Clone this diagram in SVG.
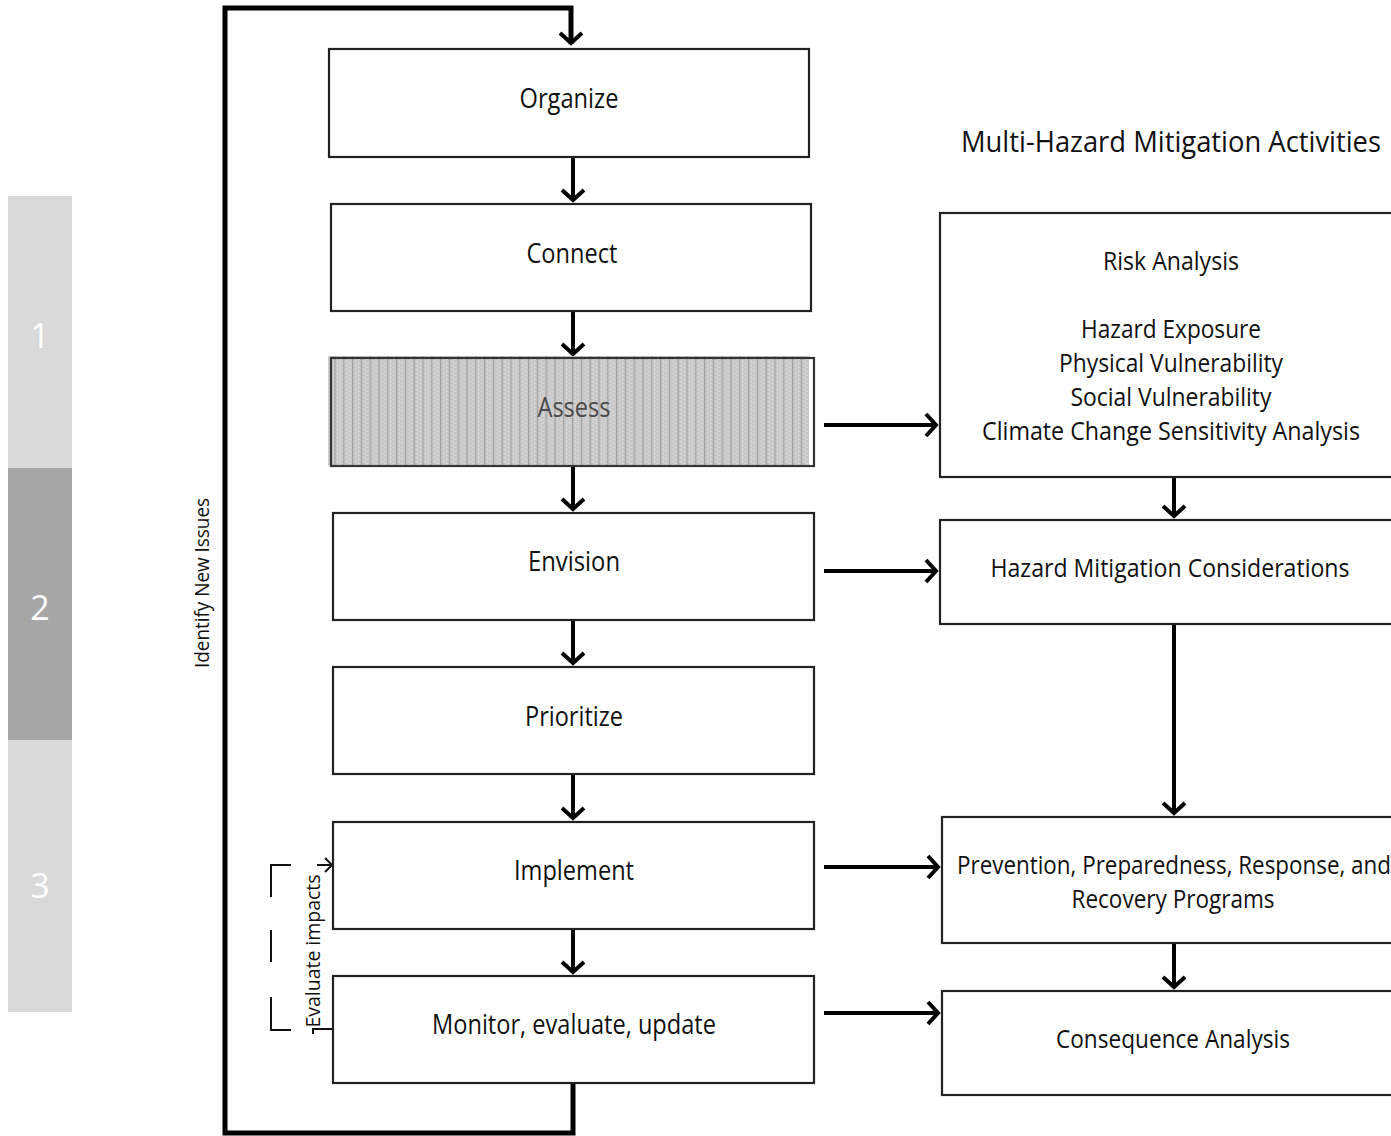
<svg xmlns="http://www.w3.org/2000/svg" width="1391" height="1136" viewBox="0 0 1391 1136">
  <style>
    text { font-family: "Open Sans", "Noto Sans", "Liberation Sans", sans-serif; fill: #111; font-weight: 500; }
    .lbl { font-size: 27px; text-anchor: middle; }
    .act { font-size: 26px; text-anchor: middle; }
    .box { fill: #fff; stroke: #222; stroke-width: 2.2; }
    .conn { fill: none; stroke: #000; stroke-width: 4; }
    .loop { fill: none; stroke: #000; stroke-width: 5; }
    .thin { fill: none; stroke: #111; stroke-width: 2; }
    .num { font-size: 34px; fill: #fff; text-anchor: middle; font-weight: 400; }
  </style>
  <defs>
    <marker id="chev" viewBox="-14 -14 28 28" markerWidth="28" markerHeight="28" refX="1" refY="0" orient="auto" markerUnits="userSpaceOnUse">
      <path d="M-10,-11 L0,0 L-10,11" fill="none" stroke="#000" stroke-width="4"/>
    </marker>
    <marker id="chevThin" viewBox="-10 -10 20 20" markerWidth="20" markerHeight="20" refX="0" refY="0" orient="auto" markerUnits="userSpaceOnUse">
      <path d="M-7,-7 L0,0 L-7,7" fill="none" stroke="#111" stroke-width="2"/>
    </marker>
    <pattern id="screen" width="8.8" height="4" patternUnits="userSpaceOnUse">
      <rect width="8.8" height="4" fill="#cacaca"/>
      <rect x="0" y="0" width="1.2" height="4" fill="#a2a2a2"/>
      <rect x="3" y="1" width="1" height="1" fill="#e8e8e8"/>
      <rect x="6" y="3" width="1" height="1" fill="#e8e8e8"/>
    </pattern>
  </defs>

  <rect width="1391" height="1136" fill="#fff"/>

  <!-- phase sidebar -->
  <g id="phases">
    <rect x="8" y="196" width="64" height="272" fill="#d9d9d9"/>
    <rect x="8" y="468" width="64" height="272" fill="#a6a6a6"/>
    <rect x="8" y="740" width="64" height="272" fill="#d9d9d9"/>
    <text class="num" x="40" y="348">1</text>
    <text class="num" x="40" y="620">2</text>
    <text class="num" x="40" y="898">3</text>
  </g>

  <!-- connectors -->
  <g id="connectors">
    <!-- feedback loop -->
    <path class="loop" d="M573,1083 V1133 H225 V8 H571 V44" marker-end="url(#chev)"/>
    <!-- process chain -->
    <path class="conn" d="M573,157 V201" marker-end="url(#chev)"/>
    <path class="conn" d="M573,311 V355" marker-end="url(#chev)"/>
    <path class="conn" d="M573,466 V510" marker-end="url(#chev)"/>
    <path class="conn" d="M573,620 V664" marker-end="url(#chev)"/>
    <path class="conn" d="M573,774 V819" marker-end="url(#chev)"/>
    <path class="conn" d="M573,929 V973" marker-end="url(#chev)"/>
    <!-- process to activities -->
    <path class="conn" d="M824,425 H937" marker-end="url(#chev)"/>
    <path class="conn" d="M824,571 H937" marker-end="url(#chev)"/>
    <path class="conn" d="M824,867 H939" marker-end="url(#chev)"/>
    <path class="conn" d="M824,1013 H939" marker-end="url(#chev)"/>
    <!-- activities chain -->
    <path class="conn" d="M1174,477 V517" marker-end="url(#chev)"/>
    <path class="conn" d="M1174,624 V814" marker-end="url(#chev)"/>
    <path class="conn" d="M1174,943 V988" marker-end="url(#chev)"/>
    <!-- evaluate impacts bracket -->
    <path class="thin" d="M291,865 H271 V897"/>
    <path class="thin" d="M271,930 V962"/>
    <path class="thin" d="M271,997 V1030 H291"/>
    <path class="thin" d="M317,865 H332" marker-end="url(#chevThin)"/>
    <path class="thin" d="M313,1034 V1029 H333"/>
  </g>

  <text x="209" y="583" font-size="20" text-anchor="middle" transform="rotate(-90 209 583)" textLength="170" lengthAdjust="spacingAndGlyphs">Identify New Issues</text>
  <text x="320" y="951" font-size="20" text-anchor="middle" transform="rotate(-90 320 951)" textLength="153" lengthAdjust="spacingAndGlyphs">Evaluate impacts</text>

  <!-- planning process steps -->
  <g id="organize">
    <rect class="box" x="329" y="49" width="480" height="108"/>
    <text class="lbl" x="569" y="108" textLength="99" lengthAdjust="spacingAndGlyphs">Organize</text>
  </g>
  <g id="connect">
    <rect class="box" x="331" y="204" width="480" height="107"/>
    <text class="lbl" x="572" y="263" textLength="91" lengthAdjust="spacingAndGlyphs">Connect</text>
  </g>
  <g id="assess">
    <rect x="328" y="356" width="481" height="110" fill="url(#screen)"/>
    <rect x="331" y="358" width="483" height="108" fill="none" stroke="#333" stroke-width="2.2"/>
    <text class="lbl" x="574" y="417" textLength="73" lengthAdjust="spacingAndGlyphs" style="fill:#4a4a4a">Assess</text>
  </g>
  <g id="envision">
    <rect class="box" x="333" y="513" width="481" height="107"/>
    <text class="lbl" x="574" y="571" textLength="92" lengthAdjust="spacingAndGlyphs">Envision</text>
  </g>
  <g id="prioritize">
    <rect class="box" x="333" y="667" width="481" height="107"/>
    <text class="lbl" x="574" y="726" textLength="98" lengthAdjust="spacingAndGlyphs">Prioritize</text>
  </g>
  <g id="implement">
    <rect class="box" x="333" y="822" width="481" height="107"/>
    <text class="lbl" x="574" y="880" textLength="120" lengthAdjust="spacingAndGlyphs">Implement</text>
  </g>
  <g id="monitor">
    <rect class="box" x="333" y="976" width="481" height="107"/>
    <text class="lbl" x="574" y="1034" textLength="284" lengthAdjust="spacingAndGlyphs">Monitor, evaluate, update</text>
  </g>

  <!-- mitigation activities -->
  <text x="1171" y="152" font-size="29" text-anchor="middle" textLength="420" lengthAdjust="spacingAndGlyphs">Multi-Hazard Mitigation Activities</text>

  <g id="risk-analysis">
    <rect class="box" x="940" y="213" width="460" height="264"/>
    <text class="act" x="1171" y="270" textLength="136" lengthAdjust="spacingAndGlyphs">Risk Analysis</text>
    <text class="act" x="1171" y="338" textLength="180" lengthAdjust="spacingAndGlyphs">Hazard Exposure</text>
    <text class="act" x="1171" y="372" textLength="224" lengthAdjust="spacingAndGlyphs">Physical Vulnerability</text>
    <text class="act" x="1171" y="406" textLength="201" lengthAdjust="spacingAndGlyphs">Social Vulnerability</text>
    <text class="act" x="1171" y="440" textLength="378" lengthAdjust="spacingAndGlyphs">Climate Change Sensitivity Analysis</text>
  </g>
  <g id="mitigation-considerations">
    <rect class="box" x="940" y="520" width="460" height="104"/>
    <text class="act" x="1170" y="577" textLength="359" lengthAdjust="spacingAndGlyphs">Hazard Mitigation Considerations</text>
  </g>
  <g id="programs">
    <rect class="box" x="942" y="817" width="460" height="126"/>
    <text class="act" x="1174" y="874" textLength="434" lengthAdjust="spacingAndGlyphs">Prevention, Preparedness, Response, and</text>
    <text class="act" x="1173" y="908" textLength="203" lengthAdjust="spacingAndGlyphs">Recovery Programs</text>
  </g>
  <g id="consequence-analysis">
    <rect class="box" x="942" y="991" width="460" height="104"/>
    <text class="act" x="1173" y="1048" textLength="234" lengthAdjust="spacingAndGlyphs">Consequence Analysis</text>
  </g>
</svg>
